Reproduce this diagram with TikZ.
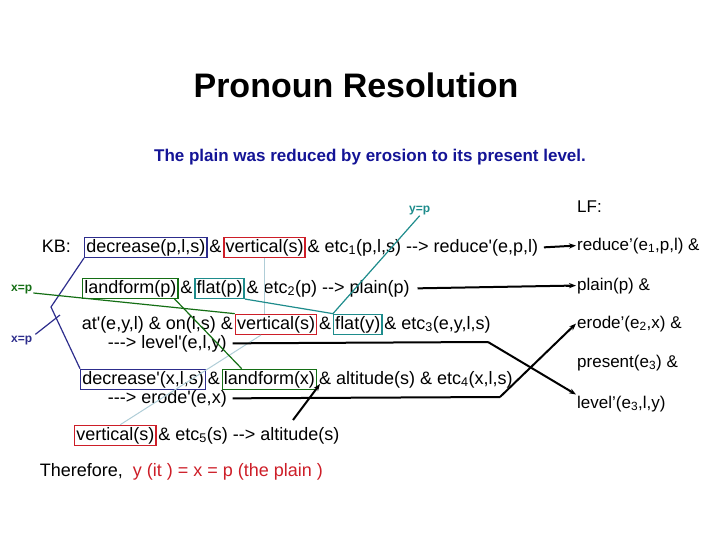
\documentclass[tikz,border=0pt]{standalone}
\usepackage{fontspec}
\setmainfont{Liberation Sans}[Ligatures=TeXOff]
\usetikzlibrary{arrows.meta}
\definecolor{cblue}{RGB}{45,45,140}
\definecolor{cred}{RGB}{205,30,40}
\definecolor{cgreen}{RGB}{20,110,20}
\definecolor{cteal}{RGB}{30,140,140}
\definecolor{clight}{RGB}{175,205,215}
\definecolor{ctitle}{RGB}{20,20,150}
\begin{document}
\begin{tikzpicture}[x=1pt,y=-1pt,
  t/.style={anchor=base west,inner sep=1.6pt,font=\fontsize{18}{21}\selectfont},
  bx/.style={t,draw=#1,line width=1.4pt},
  lab/.style={anchor=base west,inner sep=1pt,font=\fontsize{12}{14}\selectfont\bfseries},
  lf/.style={anchor=base west,inner sep=1pt,font=\fontsize{17}{20}\selectfont},
  lk/.style={line width=1.2pt},
  ar/.style={line width=2pt,-{Stealth[length=7pt]}}]
\useasboundingbox (0,0) rectangle (720,540);
\node[font=\fontsize{34}{40}\selectfont\bfseries] (title) at (356,85) {Pronoun Resolution};
\node[font=\fontsize{17}{20}\selectfont\bfseries,text=ctitle] (sub) at (370,157) {The plain was reduced by erosion to its present level.};
% row 1
\node[t] (kb) at (40,252) {KB:};
\node[bx=cblue] (d1) at (84,252) {decrease(p,l,s)};
\node[t] (a1) at (d1.base east) {\&};
\node[bx=cred] (v1) at (a1.base east) {vertical(s)};
\node[t] (r1) at (v1.base east) {\& etc\textsubscript{1}(p,l,s) --> reduce'(e,p,l)};
% row 2
\node[bx=cgreen] (lp) at (82,293) {landform(p)};
\node[t] (a2) at (lp.base east) {\&};
\node[bx=cteal] (fp) at (a2.base east) {flat(p)};
\node[t] (r2) at (fp.base east) {\& etc\textsubscript{2}(p) --> plain(p)};
% row 3
\node[t] (at) at (80,329) {at'(e,y,l) \& on(l,s) \&};
\node[bx=cred] (v2) at (at.base east) {vertical(s)};
\node[t] (a3) at (v2.base east) {\&};
\node[bx=cteal] (fy) at (a3.base east) {flat(y)};
\node[t] (r3) at (fy.base east) {\& etc\textsubscript{3}(e,y,l,s)};
\node[t] (lv) at (106,348) {---> level'(e,l,y)};
% row 4
\node[bx=cblue] (d2) at (80,384) {decrease'(x,l,s)};
\node[t] (a4) at (d2.base east) {\&};
\node[bx=cgreen] (lx) at (a4.base east) {landform(x)};
\node[t] (r4) at (lx.base east) {\& altitude(s) \& etc\textsubscript{4}(x,l,s)};
\node[t] (er) at (106,403) {---> erode'(e,x)};
% row 5
\node[bx=cred] (v3) at (74,440) {vertical(s)};
\node[t] (r5) at (v3.base east) {\& etc\textsubscript{5}(s) --> altitude(s)};
% therefore
\node[t] (th) at (38,476) {Therefore,\ \ \textcolor{cred}{y (it ) = x = p (the plain )}};
% labels
\node[lab,text=cgreen] (xg) at (10,291) {x=p};
\node[lab,text=cblue] (xb) at (10,342) {x=p};
\node[lab,text=cteal] (yp) at (408,212) {y=p};
% LF
\node[lf] (lfh) at (576,212) {LF:};
\node[lf] (l1) at (576,250) {reduce’(e\textsubscript{1},p,l) \&};
\node[lf] (l2) at (576,290) {plain(p) \&};
\node[lf] (l3) at (576,328) {erode’(e\textsubscript{2},x) \&};
\node[lf] (l4) at (576,367) {present(e\textsubscript{3}) \&};
\node[lf] (l5) at (576,408) {level’(e\textsubscript{3},l,y)};
% light connectors
\draw[clight,line width=1pt] (v1.south) -- (v1.south |- v2.north);
\draw[clight,line width=1pt] ([xshift=-15pt]v2.south) -- ([xshift=5pt]v3.north);
% blue
\coordinate (bk) at (51,307);
\coordinate (bj) at (60,315);
\draw[cblue,lk] (d1.south west) -- (bk) -- (d2.north west);
\draw[cblue,lk] ([xshift=2pt]xb.north east) -- (bj);
% green
\draw[cgreen,lk] ([yshift=-4pt]xg.east) -- (v2.north west);
\draw[cgreen,lk] ([xshift=-4pt]lp.south east) -- ([xshift=20pt]lx.north west);
% teal
\draw[cteal,lk] (fp.south east) -- (fy.north west);
\draw[cteal,lk] (yp.south) -- (fy.north west);
% black arrows
\draw[ar] ([xshift=4pt]r1.east) -- (l1.west);
\draw[line width=2pt] ([xshift=6pt]r2.east) -- ([xshift=-4pt]l2.west);
\draw[ar] ([xshift=-10pt]l2.west) -- (l2.west);
\coordinate (lvb) at (488,342);
\coordinate (erb) at (500,397);
\draw[line width=2pt] ([xshift=4pt]lv.east) -- (lvb);
\draw[ar] (lvb) -- (l5.north west);
\draw[line width=2pt] ([xshift=4pt]er.east) -- (erb);
\draw[ar] (erb) -- (l3.west);
\coordinate (as) at (293,420);
\coordinate (ae) at (320,384);
\draw[ar] (as) -- (ae);
\end{tikzpicture}
\end{document}
